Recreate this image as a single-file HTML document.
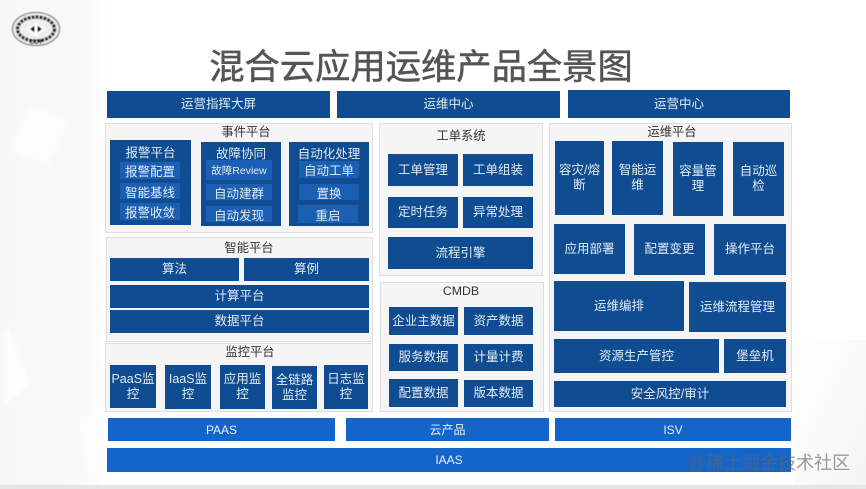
<!DOCTYPE html>
<html lang="zh">
<head>
<meta charset="utf-8">
<style>
html,body{margin:0;padding:0;width:866px;height:489px;overflow:hidden;background:#fff}
#p{position:relative;width:866px;height:489px;overflow:hidden;background:linear-gradient(to right,#f7f7f7,#f9f9f9 85px,#fff 108px);font-family:"Liberation Sans","Noto Sans CJK SC",sans-serif;filter:blur(.35px)}
#p div{position:absolute;box-sizing:border-box;display:flex;align-items:center;justify-content:center;text-align:center;white-space:nowrap}
.n{background:#0f4c92;color:#e2ebf5;font-size:12.5px;line-height:15px}
.b{background:#1465c9;color:#e8f0fa;font-size:12px}
.s{background:#1a5fb3;color:#e2ebf5;font-size:12.5px}
.g{background:#f5f5f5;border:1px solid #dedede}
.t{color:#333;font-size:12.3px;line-height:14px}
svg{position:absolute;left:0;top:0;display:block}
</style>
</head>
<body>
<div id="p">
<svg width="866" height="489" viewBox="0 0 866 489">
<defs>
<filter id="h"><feGaussianBlur stdDeviation="1.5"/></filter>
<filter id="k"><feGaussianBlur stdDeviation=".6"/></filter>
<linearGradient id="c" x1="0" x2="1" y1="0" y2="1"><stop offset="0" stop-color="#f6f6f6" stop-opacity="0"/><stop offset="1" stop-color="#f4f4f4"/></linearGradient>
</defs>
<polygon points="30,105 70,120 48,165 10,150" fill="#fcfcfc" filter="url(#h)"/>
<polygon points="8,325 30,385 4,405 4,335" fill="#fdfdfd" filter="url(#h)"/>
<polygon points="78,420 104,405 104,470 88,478" fill="#fcfcfc" filter="url(#h)"/>
<rect x="795" y="340" width="71" height="145" fill="url(#c)"/>
<rect x="0" y="485" width="866" height="4" fill="#e6e6e6"/>
<g filter="url(#k)">
<ellipse cx="36" cy="29" rx="23.5" ry="16.5" fill="#eee" stroke="#666" stroke-width="1"/>
<ellipse cx="36" cy="29" rx="18.5" ry="12" fill="none" stroke="#222" stroke-width="3.4" stroke-dasharray="3 1"/>
<polygon points="36,22 46,29 36,36 26,29" fill="#fff"/>
<polygon points="34.5,25.5 34.5,32.5 30,29" fill="#000"/>
<polygon points="37.5,25.5 37.5,32.5 42,29" fill="#000"/>
<text x="36" y="44" font-size="6.5" font-weight="700" text-anchor="middle" fill="#111" font-family="Liberation Sans">CCT</text>
</g>
</svg>

<div style="left:209px;top:40px;width:424px;height:48px;font-size:35.3px;color:#555;-webkit-text-stroke:.5px #555">混合云应用运维产品全景图</div>

<div class="n" style="left:107px;top:91px;width:223px;height:27px">运营指挥大屏</div>
<div class="n" style="left:337px;top:91px;width:223px;height:27px">运维中心</div>
<div class="n" style="left:568px;top:90px;width:222px;height:28px">运营中心</div>

<div class="g" style="left:105px;top:123px;width:268px;height:110px"></div>
<div class="t" style="left:105px;top:125px;width:282px;height:14px">事件平台</div>
<div class="n" style="left:110px;top:140px;width:81px;height:85px"></div>
<div class="n" style="left:201px;top:142px;width:80px;height:84px"></div>
<div class="n" style="left:289px;top:142px;width:80px;height:84px"></div>
<div style="left:110px;top:143px;width:81px;height:16px;color:#e2ebf5;font-size:12.5px">报警平台</div>
<div style="left:201px;top:144px;width:80px;height:16px;color:#e2ebf5;font-size:12.5px">故障协同</div>
<div style="left:289px;top:144px;width:80px;height:16px;color:#e2ebf5;font-size:12.5px">自动化处理</div>
<div class="s" style="left:120px;top:162px;width:60px;height:17px">报警配置</div>
<div class="s" style="left:120px;top:183px;width:60px;height:16px">智能基线</div>
<div class="s" style="left:120px;top:203px;width:60px;height:17px">报警收敛</div>
<div class="s" style="left:206px;top:160px;width:66px;height:20px;font-size:10.5px">故障Review</div>
<div class="s" style="left:206px;top:184px;width:66px;height:16px">自动建群</div>
<div class="s" style="left:206px;top:206px;width:66px;height:16px">自动发现</div>
<div class="s" style="left:299px;top:161px;width:60px;height:17px">自动工单</div>
<div class="s" style="left:299px;top:184px;width:60px;height:16px">置换</div>
<div class="s" style="left:298px;top:205px;width:60px;height:18px">重启</div>

<div class="g" style="left:106px;top:237px;width:267px;height:105px"></div>
<div class="t" style="left:106px;top:241px;width:286px;height:14px">智能平台</div>
<div class="n" style="left:110px;top:258px;width:129px;height:23px">算法</div>
<div class="n" style="left:244px;top:258px;width:125px;height:23px">算例</div>
<div class="n" style="left:110px;top:285px;width:259px;height:23px">计算平台</div>
<div class="n" style="left:110px;top:310px;width:259px;height:23px">数据平台</div>

<div class="g" style="left:105px;top:343px;width:268px;height:69px"></div>
<div class="t" style="left:105px;top:345px;width:290px;height:14px">监控平台</div>
<div class="n" style="left:110px;top:365px;width:46px;height:43px">PaaS监<br>控</div>
<div class="n" style="left:165px;top:365px;width:46px;height:44px">IaaS监<br>控</div>
<div class="n" style="left:220px;top:365px;width:45px;height:44px">应用监<br>控</div>
<div class="n" style="left:272px;top:366px;width:45px;height:43px">全链路<br>监控</div>
<div class="n" style="left:324px;top:365px;width:44px;height:44px">日志监<br>控</div>

<div class="g" style="left:379px;top:123px;width:164px;height:153px"></div>
<div class="t" style="left:379px;top:129px;width:164px;height:14px">工单系统</div>
<div class="n" style="left:388px;top:154px;width:70px;height:32px">工单管理</div>
<div class="n" style="left:463px;top:154px;width:70px;height:32px">工单组装</div>
<div class="n" style="left:388px;top:197px;width:70px;height:31px">定时任务</div>
<div class="n" style="left:463px;top:197px;width:70px;height:31px">异常处理</div>
<div class="n" style="left:388px;top:237px;width:145px;height:32px">流程引擎</div>

<div class="g" style="left:380px;top:282px;width:164px;height:130px"></div>
<div class="t" style="left:380px;top:284px;width:162px;height:14px">CMDB</div>
<div class="n" style="left:389px;top:307px;width:69px;height:28px">企业主数据</div>
<div class="n" style="left:464px;top:307px;width:69px;height:28px">资产数据</div>
<div class="n" style="left:389px;top:344px;width:69px;height:27px">服务数据</div>
<div class="n" style="left:464px;top:344px;width:69px;height:27px">计量计费</div>
<div class="n" style="left:389px;top:379px;width:69px;height:28px">配置数据</div>
<div class="n" style="left:464px;top:380px;width:69px;height:27px">版本数据</div>

<div class="g" style="left:549px;top:123px;width:243px;height:289px"></div>
<div class="t" style="left:549px;top:125px;width:246px;height:14px">运维平台</div>
<div class="n" style="left:555px;top:141px;width:49px;height:74px">容灾/熔<br>断</div>
<div class="n" style="left:612px;top:141px;width:51px;height:74px">智能运<br>维</div>
<div class="n" style="left:673px;top:142px;width:50px;height:74px">容量管<br>理</div>
<div class="n" style="left:733px;top:142px;width:51px;height:74px">自动巡<br>检</div>
<div class="n" style="left:554px;top:224px;width:71px;height:50px">应用部署</div>
<div class="n" style="left:634px;top:224px;width:71px;height:51px">配置变更</div>
<div class="n" style="left:714px;top:224px;width:72px;height:51px">操作平台</div>
<div class="n" style="left:554px;top:281px;width:130px;height:50px">运维编排</div>
<div class="n" style="left:689px;top:282px;width:97px;height:50px">运维流程管理</div>
<div class="n" style="left:554px;top:339px;width:165px;height:34px">资源生产管控</div>
<div class="n" style="left:724px;top:339px;width:62px;height:34px">堡垒机</div>
<div class="n" style="left:554px;top:381px;width:232px;height:26px">安全风控/审计</div>

<div class="b" style="left:108px;top:418px;width:227px;height:23px">PAAS</div>
<div class="b" style="left:346px;top:418px;width:203px;height:23px">云产品</div>
<div class="b" style="left:555px;top:418px;width:236px;height:23px">ISV</div>
<div class="b" style="left:107px;top:448px;width:684px;height:24px">IAAS</div>

<div style="left:687px;top:451px;width:164px;height:22px;font-size:18px;color:rgba(100,100,100,.65)">@稀土掘金技术社区</div>
</div>
</body>
</html>
